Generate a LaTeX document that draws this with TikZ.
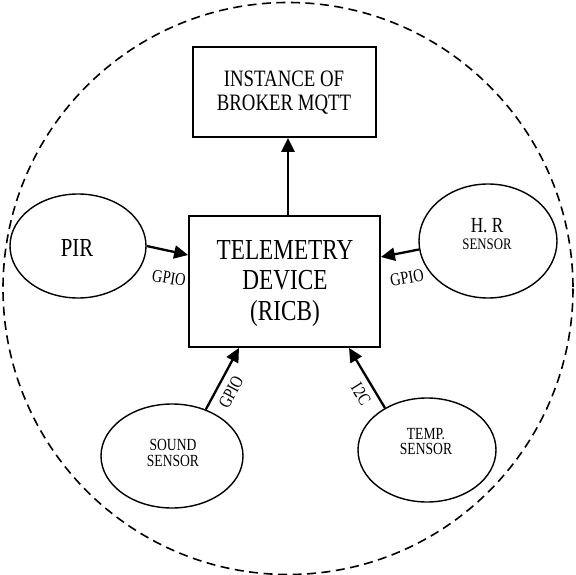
\documentclass[tikz,border=0pt]{standalone}
\usepackage{fontspec}
\setmainfont{Liberation Serif}[FakeStretch=0.8]
\usetikzlibrary{shapes.geometric,arrows.meta}
\begin{document}
\begin{tikzpicture}[x=1pt,y=-1pt,
  box/.style={draw,line width=1.8pt,inner sep=0pt,align=center},
  oval/.style={draw,ellipse,line width=1.4pt,inner sep=0pt,align=center},
  txt/.style={inner sep=0pt,align=center},
  arr/.style={line width=2.3pt,-{Triangle[length=14pt,width=13pt]}},
  lbl/.style={font=\fontsize{18}{20}\selectfont,inner sep=0pt}]
\useasboundingbox (0,0) rectangle (576,575);
\draw[line width=1.6pt, dash pattern=on 9pt off 5.5pt] (288,288.5) ellipse [x radius=285, y radius=286];

\node[box, minimum width=183pt, minimum height=90pt] (broker) at (284.5,92) {};
\node[txt, font=\fontsize{23.5}{24}\selectfont] (brokertext) at (284,93) {INSTANCE OF\\BROKER MQTT};

\node[box, minimum width=191pt, minimum height=131pt] (dev) at (284.5,281.5) {};
\node[txt, font=\fontsize{29}{30.5}\selectfont] (devtext) at (285,283.5) {TELEMETRY\\DEVICE\\(RICB)};

\node[oval, minimum width=136pt, minimum height=104pt] (pir) at (78,246) {};
\node[txt, font=\fontsize{26}{26}\selectfont] (pirtext) at (77,248) {PIR};

\node[oval, minimum width=138pt, minimum height=114pt] (hr) at (488,241) {};
\node[txt, font=\fontsize{21.5}{20}\selectfont] (hrtext1) at (487,226) {H. R};
\node[txt, font=\fontsize{16}{16}\selectfont] (hrtext2) at (487,244) {SENSOR};

\node[oval, minimum width=142pt, minimum height=104pt] (sound) at (172,456) {};
\node[txt, font=\fontsize{17}{16}\selectfont] (soundtext) at (173,453) {SOUND\\SENSOR};

\node[oval, minimum width=138pt, minimum height=104pt] (temp) at (427,450) {};
\node[txt, font=\fontsize{17}{15.5}\selectfont] (temptext) at (426,441.5) {TEMP.\\SENSOR};

\draw[arr] ([xshift=3.5pt]dev.north) -- ([xshift=3.5pt]broker.south);
\draw[arr] (pir.east) -- ([yshift=26.5pt]dev.west);
\draw[arr] (hr.187) -- ([yshift=24.5pt]dev.east);
\draw[arr] (sound.54) -- ([xshift=-45.5pt]dev.south);
\draw[arr] (temp.135) -- ([xshift=64.5pt]dev.south);

\node[lbl, rotate=-9] (l1) at (169,278) {GPIO};
\node[lbl, rotate=10] (l2) at (407,278) {GPIO};
\node[lbl, rotate=62] (l3) at (231,392) {GPIO};
\node[lbl, rotate=-58] (l4) at (361,394) {I2C};
\end{tikzpicture}
\end{document}
